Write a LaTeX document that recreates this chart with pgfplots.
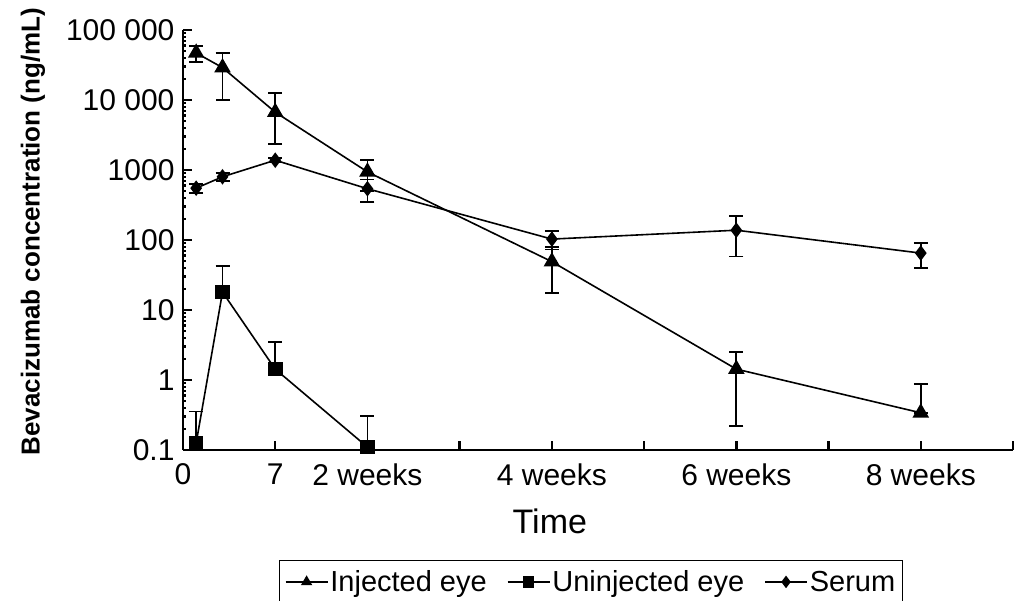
\documentclass[border=0pt]{standalone}
\usepackage{pgfplots}
\pgfplotsset{compat=1.18}
\usepackage{fontspec}
\setmainfont{Liberation Sans}
\begin{document}
\begin{tikzpicture}[x=1pt,y=1pt]
\begin{axis}[
  at={(0pt,0pt)}, anchor=south west,
  scale only axis, width=830pt, height=420pt,
  ymode=log, ymin=0.1, ymax=100000,
  xmin=0, xmax=63,
  axis lines=left, axis line style={line width=2.8pt, -},
  clip=false,
  xtick={0,7,14,21,28,35,42,49,56,63},
  xticklabels={0,7,2 weeks,,4 weeks,,6 weeks,,8 weeks,},
  ytick={0.1,1,10,100,1000,10000,100000},
  yticklabels={0.1,1,10,100,1000,10 000,100 000},
  minor ytick={},
  xtick align=inside, ytick align=inside, major tick length=9pt,
  tick style={line width=2.4pt, black},
  /pgf/number format/assume math mode=true,
  tick label style={font=\fontsize{30}{33}\selectfont},
  yticklabel style={xshift=-5pt},
  xticklabel style={yshift=-10pt},
  xlabel={Time},
  xlabel style={font=\fontsize{34}{38}\selectfont, at={(axis description cs:0.442,-0.171)}, anchor=center},
  ylabel={\bfseries Bevacizumab concentration (ng/mL)},
  ylabel style={font=\fontsize{26}{30}\selectfont, at={(axis description cs:-0.1807,0.52)}, anchor=center},
  legend columns=3,
  legend style={at={(axis description cs:0.4916,-0.262)}, anchor=north, draw=black, line width=1.2pt,
     font=\fontsize{29}{33}\selectfont, inner xsep=5pt, inner ysep=8pt,
     /tikz/every even column/.append style={column sep=18pt}},
  legend image code/.code={\draw[mark repeat=2,mark phase=2] plot coordinates {(0pt,0pt) (21pt,0pt) (42pt,0pt)};},
  legend image post style={mark size=5pt},
  every axis plot/.append style={line width=1.6pt, black},
]
\addplot+[black, mark=triangle*, mark size=8pt, mark options={fill=black, solid},
  error bars/.cd, y dir=both, y explicit,
  error bar style={line width=1.8pt, black},
  error mark options={rotate=90, mark size=7pt, line width=1.8pt, black}]
  coordinates {
  (1,47000) += (0,12000) -= (0,12000)
  (3,29000) += (0,18000) -= (0,19000)
  (7,6700) += (0,5900) -= (0,4350)
  (14,940) += (0,440) -= (0,440)
  (28,49) += (0,31) -= (0,31.5)
  (42,1.43) += (0,1.1) -= (0,1.21)
  (56,0.34) += (0,0.53) -= (0,0)
  };
\addlegendentry{Injected eye}
\addplot+[black, mark=square*, mark size=6.5pt, mark options={fill=black, solid},
  error bars/.cd, y dir=plus, y explicit,
  error bar style={line width=1.8pt, black},
  error mark options={rotate=90, mark size=7pt, line width=1.8pt, black}]
  coordinates {
  (1,0.126) += (0,0.23)
  (3,18) += (0,25)
  (7,1.43) += (0,2.1)
  (14,0.11) += (0,0.2)
  };
\addlegendentry{Uninjected eye}
\addplot+[black, mark=diamond*, mark size=6.5pt, mark options={fill=black, solid},
  error bars/.cd, y dir=both, y explicit,
  error bar style={line width=1.8pt, black},
  error mark options={rotate=90, mark size=7pt, line width=1.8pt, black}]
  coordinates {
  (1,550) +- (0,80)
  (3,800) +- (0,100)
  (7,1380) +- (0,100)
  (14,540) +- (0,190)
  (28,103) +- (0,30)
  (42,138) +- (0,80)
  (56,65) +- (0,25)
  };
\addlegendentry{Serum}
\end{axis}
\pgfresetboundingbox
\path (-183pt,-151pt) rectangle (836pt,450pt);
\end{tikzpicture}
\end{document}
